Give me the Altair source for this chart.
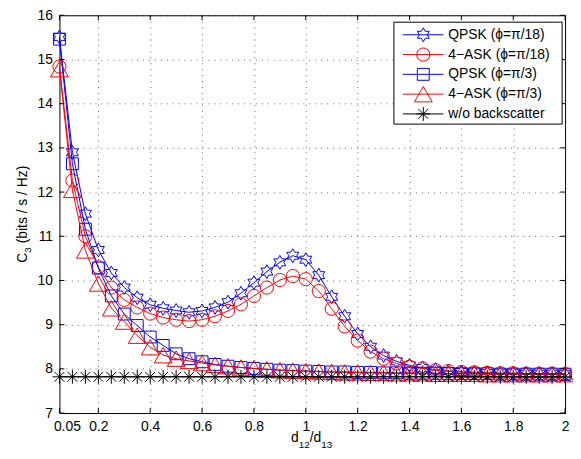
import altair as alt
import pandas as pd

# ---------------- data ----------------
x_vals = [0.05, 0.10, 0.15, 0.20, 0.25, 0.30, 0.35, 0.40, 0.45, 0.50,
          0.55, 0.60, 0.65, 0.70, 0.75, 0.80, 0.85, 0.90, 0.95, 1.00,
          1.05, 1.10, 1.15, 1.20, 1.25, 1.30, 1.35, 1.40, 1.45, 1.50,
          1.55, 1.60, 1.65, 1.70, 1.75, 1.80, 1.85, 1.90, 1.95, 2.00]

qpsk_pi18 = [15.51, 12.90, 11.51, 10.69, 10.17, 9.84, 9.61, 9.45, 9.37, 9.32,
             9.28, 9.31, 9.39, 9.51, 9.71, 9.95, 10.20, 10.41, 10.56, 10.47,
             10.12, 9.63, 9.19, 8.79, 8.50, 8.30, 8.17, 8.08, 8.02, 7.98,
             7.95, 7.93, 7.92, 7.91, 7.90, 7.90, 7.89, 7.89, 7.89, 7.88]

ask_pi18 = [14.84, 12.26, 11.00, 10.30, 9.84, 9.56, 9.39, 9.25, 9.16, 9.11,
            9.08, 9.11, 9.19, 9.31, 9.46, 9.65, 9.84, 10.01, 10.10, 10.03,
            9.76, 9.36, 8.96, 8.64, 8.39, 8.23, 8.12, 8.05, 8.01, 7.97,
            7.95, 7.93, 7.92, 7.91, 7.90, 7.90, 7.89, 7.89, 7.89, 7.88]

qpsk_pi3 = [15.46, 12.64, 11.16, 10.28, 9.65, 9.24, 8.98, 8.72, 8.53, 8.34,
            8.23, 8.16, 8.10, 8.06, 8.03, 8.01, 7.99, 7.97, 7.96, 7.95,
            7.94, 7.93, 7.93, 7.92, 7.92, 7.91, 7.91, 7.90, 7.90, 7.90,
            7.89, 7.89, 7.89, 7.89, 7.88, 7.88, 7.88, 7.88, 7.88, 7.88]

ask_pi3 = [14.78, 12.05, 10.68, 9.93, 9.37, 9.07, 8.75, 8.49, 8.31, 8.23,
           8.18, 8.13, 8.09, 8.06, 8.03, 8.01, 7.99, 7.97, 7.96, 7.95,
           7.94, 7.93, 7.92, 7.92, 7.91, 7.91, 7.90, 7.90, 7.90, 7.89,
           7.89, 7.89, 7.89, 7.88, 7.88, 7.88, 7.88, 7.88, 7.88, 7.88]

no_backscatter = [7.82, 7.82, 7.82, 7.82, 7.82, 7.82, 7.82, 7.82, 7.82, 7.82,
                  7.82, 7.82, 7.82, 7.82, 7.82, 7.82, 7.82, 7.82, 7.82, 7.82,
                  7.82, 7.82, 7.82, 7.82, 7.82, 7.82, 7.82, 7.82, 7.82, 7.82,
                  7.82, 7.82, 7.82, 7.82, 7.82, 7.82, 7.82, 7.82, 7.82, 7.82]

series_names = ["QPSK (ϕ=π/18)", "4−ASK (ϕ=π/18)", "QPSK (ϕ=π/3)",
                "4−ASK (ϕ=π/3)", "w/o backscatter"]
series_values = [qpsk_pi18, ask_pi18, qpsk_pi3, ask_pi3, no_backscatter]

x_ticks = [0.05, 0.2, 0.4, 0.6, 0.8, 1.0, 1.2, 1.4, 1.6, 1.8, 2.0]
x_labelled = [0.2, 0.4, 0.6, 0.8, 1.0, 1.2, 1.4, 1.6, 1.8, 2.0]
first_x_label = "0.05"
y_ticks = [7, 8, 9, 10, 11, 12, 13, 14, 15, 16]

# ---------------- styles ----------------
HEXAGRAM = ("M0,-1L0.2887,-0.5L0.866,-0.5L0.5774,0L0.866,0.5L0.2887,0.5L0,1"
            "L-0.2887,0.5L-0.866,0.5L-0.5774,0L-0.866,-0.5L-0.2887,-0.5Z")
ASTERISK = ("M-1,0L1,0M0,-1L0,1M-0.707,-0.707L0.707,0.707"
            "M-0.707,0.707L0.707,-0.707")
series_colors = ["#0000ff", "#ff0000", "#0000ff", "#ff0000", "#000000"]
series_shapes = [HEXAGRAM, "circle", "square", "triangle-up", ASTERISK]
series_sizes = [196, 177, 144, 324, 196]

FONT = "Liberation Sans, Arial, Helvetica, sans-serif"
W, H = 511, 402
LABEL_SIZE = 14

xscale = alt.Scale(domain=[0.05, 2.0], nice=False, zero=False)
yscale = alt.Scale(domain=[7, 16], nice=False, zero=False)
axis_common = dict(title=None, grid=True, gridDash=[1, 5], gridColor="#000000",
                   gridOpacity=0.6, gridWidth=1, ticks=False, domain=False,
                   labelFont=FONT, labelFontSize=LABEL_SIZE, labelColor="#000000",
                   labelPadding=7, labelFlush=False, labelOverlap=False)
xaxis = alt.Axis(values=x_labelled, format="~g", **axis_common)
yaxis = alt.Axis(values=y_ticks, format="~g", **axis_common)

def X(field):
    return alt.X(f"{field}:Q", scale=xscale, axis=xaxis)

def Y(field):
    return alt.Y(f"{field}:Q", scale=yscale, axis=yaxis)

layers = []
for name, vals, col, shp, sz in zip(series_names, series_values, series_colors,
                                    series_shapes, series_sizes):
    df = pd.DataFrame({"x": x_vals, "y": vals})
    layers.append(alt.Chart(df).mark_line(color=col, strokeWidth=1)
                  .encode(x=X("x"), y=Y("y")))
    layers.append(alt.Chart(df).mark_point(shape=shp, size=sz, color=col,
                                           filled=False, strokeWidth=1, opacity=1)
                  .encode(x=X("x"), y=Y("y")))

# inward ticks on all four sides
df_xt = pd.DataFrame({"v": x_ticks})
df_yt = pd.DataFrame({"v": y_ticks})
layers.append(alt.Chart(df_xt).mark_rule(color="black", strokeWidth=1, y2Offset=-5)
              .encode(x=X("v"), y=alt.datum(7), y2=alt.datum(7)))
layers.append(alt.Chart(df_xt).mark_rule(color="black", strokeWidth=1, y2Offset=5)
              .encode(x=X("v"), y=alt.datum(16), y2=alt.datum(16)))
layers.append(alt.Chart(df_yt).mark_rule(color="black", strokeWidth=1, x2Offset=5)
              .encode(y=Y("v"), x=alt.datum(0.05), x2=alt.datum(0.05)))
layers.append(alt.Chart(df_yt).mark_rule(color="black", strokeWidth=1, x2Offset=-5)
              .encode(y=Y("v"), x=alt.datum(2.0), x2=alt.datum(2.0)))

one = pd.DataFrame({"a": [0]})

# first x label (drawn slightly right of its tick, as in the reference)
layers.append(alt.Chart(one).mark_text(align="center", baseline="top", font=FONT,
                                       fontSize=LABEL_SIZE, color="black",
                                       dx=8, dy=7)
              .encode(x=alt.datum(0.05), y=alt.datum(7), text=alt.value(first_x_label)))

# legend
layers.append(alt.Chart(one).mark_rect(fill="white", stroke="black", strokeWidth=1)
              .encode(x=alt.value(338), x2=alt.value(508),
                      y=alt.value(7), y2=alt.value(110)))
for i, (name, col, shp, sz) in enumerate(zip(series_names, series_colors,
                                              series_shapes, series_sizes)):
    ly = 19.7 + 20 * i
    layers.append(alt.Chart(one).mark_rule(color=col, strokeWidth=1)
                  .encode(x=alt.value(347), x2=alt.value(388), y=alt.value(ly)))
    layers.append(alt.Chart(one).mark_point(shape=shp, size=sz, color=col,
                                            filled=False, strokeWidth=1, opacity=1)
                  .encode(x=alt.value(367.7), y=alt.value(ly)))
    layers.append(alt.Chart(one).mark_text(align="left", baseline="middle",
                                           font=FONT, fontSize=14, color="black")
                  .encode(x=alt.value(393), y=alt.value(ly), text=alt.value(name)))

# axis titles with subscripts
def txt(s, x, y, size=14, angle=0):
    m = alt.Chart(one).mark_text(align="left", baseline="alphabetic", font=FONT,
                                 fontSize=size, color="black", angle=angle)
    return m.encode(x=alt.value(x), y=alt.value(y), text=alt.value(s))

layers += [
    txt("C", -33, 250.1, 14, 270),
    txt("3", -29, 240.0, 10, 270),
    txt("(bits / s / Hz)", -33, 230.5, 14, 270),
    txt("d", 234, 431, 14),
    txt("12", 241.8, 437, 10),
    txt("/", 252.9, 431, 14),
    txt("d", 256.8, 431, 14),
    txt("13", 264.6, 437, 10),
]

chart = alt.layer(*layers).properties(
    width=W, height=H,
    autosize=alt.AutoSizeParams(type="none"),
    padding={"left": 52, "top": 5, "right": 8, "bottom": 36},
    background="white",
).configure_view(stroke="black", strokeWidth=1)

chart.save("out.html", embed_options={"renderer": "svg", "actions": False})
